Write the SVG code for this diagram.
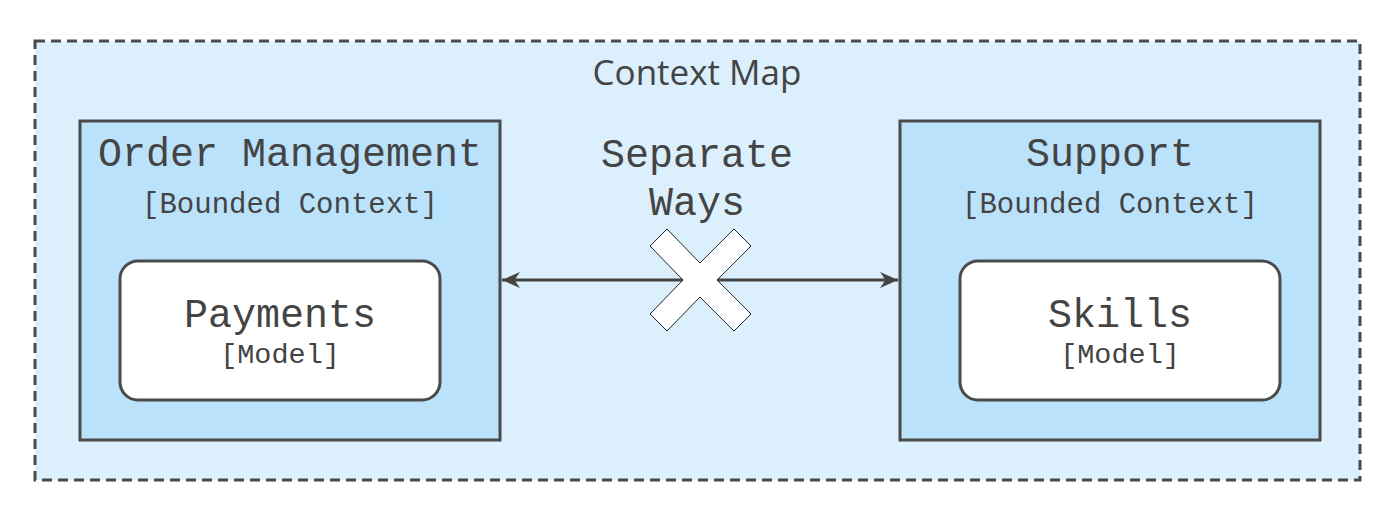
<svg xmlns="http://www.w3.org/2000/svg" width="1400" height="520" viewBox="0 0 1400 520">
<defs>
<style>
.m{font-family:"Liberation Mono","DejaVu Sans Mono",monospace;fill:#444;text-anchor:middle}
.ctx{fill:#bbe2fb;stroke:#4a4a4a;stroke-width:3}
.mod{fill:#fff;stroke:#4a4a4a;stroke-width:3}
</style>
<marker id="ah" viewBox="0 0 10 10" refX="10" refY="5" markerWidth="18" markerHeight="16" orient="auto-start-reverse" markerUnits="userSpaceOnUse" preserveAspectRatio="none"><path d="M0,0 L10,5 L0,10 L3,5 z" fill="#444"/></marker>
</defs>
<rect width="1400" height="520" fill="#fff"/>
<g id="context-map">
<rect x="35" y="41" width="1325" height="439" fill="#dbeffd" stroke="#4a4a4a" stroke-width="3" stroke-dasharray="10,6"/>
<text x="697" y="85" font-family="'Open Sans','Liberation Sans',sans-serif" font-size="35" fill="#444" text-anchor="middle">Context Map</text>
</g>
<g id="order-management">
<rect class="ctx" x="80" y="121" width="420" height="319"/>
<text class="m" x="290" y="166" font-size="40">Order Management</text>
<text class="m" x="290" y="213" font-size="29">[Bounded Context]</text>
</g>
<g id="payments">
<rect class="mod" x="120" y="261" width="320" height="139" rx="18"/>
<text class="m" x="280" y="327" font-size="40">Payments</text>
<text class="m" x="280" y="363" font-size="28.5">[Model]</text>
</g>
<g id="support">
<rect class="ctx" x="900" y="121" width="420" height="319"/>
<text class="m" x="1110" y="166" font-size="40">Support</text>
<text class="m" x="1110" y="213" font-size="29">[Bounded Context]</text>
</g>
<g id="skills">
<rect class="mod" x="960" y="261" width="320" height="139" rx="18"/>
<text class="m" x="1120" y="327" font-size="40">Skills</text>
<text class="m" x="1120" y="363" font-size="28.5">[Model]</text>
</g>
<g id="connectors">
<line x1="502" y1="280" x2="898" y2="280" stroke="#444" stroke-width="3" marker-start="url(#ah)" marker-end="url(#ah)"/>
<text class="m" x="697" y="167" font-size="40">Separate</text>
<text class="m" x="697" y="215" font-size="40">Ways</text>
<polygon points="650,246 667,229 700,263 734,229 751,246 717,280 751,314 734,331 700,297 667,331 650,314 683,280" fill="#fff" stroke="#222" stroke-width="1"/>
</g>
</svg>
